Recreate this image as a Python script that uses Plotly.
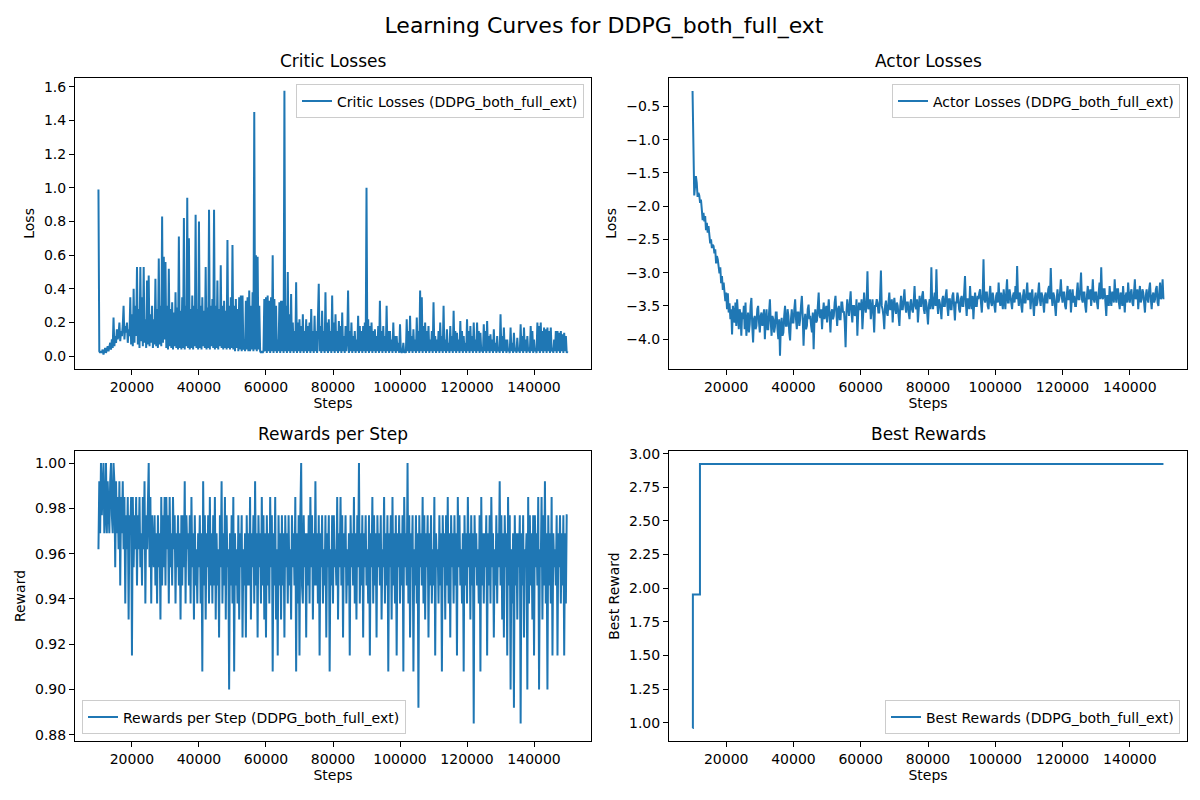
import plotly.graph_objects as go

# training steps, one logged value every 250 steps
steps = list(range(10000, 150001, 250))

critic_losses = [
    0.99, 0.03, 0.02, 0.03, 0.02, 0.04, 0.01, 0.03, 0.05, 0.02, 0.04, 0.06, 0.03, 0.05, 0.08, 0.04, 0.10, 0.05, 0.23, 0.06,
    0.12, 0.08, 0.16, 0.10, 0.13, 0.20, 0.09, 0.15, 0.12, 0.18, 0.30, 0.10, 0.18, 0.14, 0.20, 0.08, 0.16, 0.12, 0.35, 0.07,
    0.25, 0.06, 0.40, 0.08, 0.30, 0.12, 0.53, 0.07, 0.28, 0.05, 0.53, 0.09, 0.35, 0.06, 0.53, 0.08, 0.22, 0.05, 0.45, 0.07,
    0.48, 0.06, 0.25, 0.08, 0.30, 0.05, 0.22, 0.07, 0.46, 0.06, 0.28, 0.05, 0.58, 0.07, 0.30, 0.06, 0.83, 0.08, 0.59, 0.10,
    0.56, 0.05, 0.30, 0.04, 0.52, 0.06, 0.28, 0.05, 0.32, 0.04, 0.26, 0.06, 0.38, 0.05, 0.29, 0.04, 0.71, 0.05, 0.27, 0.04,
    0.35, 0.05, 0.82, 0.04, 0.30, 0.06, 0.94, 0.05, 0.70, 0.04, 0.28, 0.05, 0.36, 0.04, 0.30, 0.06, 0.84, 0.05, 0.28, 0.04,
    0.80, 0.05, 0.30, 0.04, 0.35, 0.06, 0.27, 0.05, 0.53, 0.04, 0.29, 0.05, 0.87, 0.04, 0.30, 0.06, 0.34, 0.05, 0.87, 0.04,
    0.30, 0.05, 0.45, 0.04, 0.28, 0.06, 0.54, 0.05, 0.30, 0.04, 0.33, 0.05, 0.27, 0.04, 0.69, 0.05, 0.30, 0.04, 0.35, 0.05,
    0.66, 0.04, 0.30, 0.03, 0.34, 0.05, 0.28, 0.03, 0.35, 0.04, 0.36, 0.03, 0.36, 0.04, 0.10, 0.03, 0.33, 0.04, 0.35, 0.03,
    0.39, 0.03, 0.30, 0.04, 0.38, 0.03, 1.45, 0.04, 0.60, 0.03, 0.59, 0.04, 0.30, 0.03, 0.02, 0.03, 0.02, 0.03, 0.34, 0.03,
    0.35, 0.02, 0.36, 0.03, 0.33, 0.02, 0.35, 0.03, 0.60, 0.02, 0.34, 0.03, 0.30, 0.02, 0.10, 0.03, 0.32, 0.02, 0.33, 0.03,
    0.33, 0.02, 1.575, 0.03, 0.30, 0.02, 0.50, 0.03, 0.25, 0.02, 0.37, 0.03, 0.20, 0.02, 0.15, 0.03, 0.44, 0.02, 0.20, 0.03,
    0.22, 0.02, 0.18, 0.03, 0.25, 0.02, 0.15, 0.03, 0.22, 0.02, 0.18, 0.03, 0.20, 0.02, 0.28, 0.03, 0.15, 0.02, 0.24, 0.03,
    0.15, 0.02, 0.20, 0.43, 0.03, 0.18, 0.02, 0.27, 0.03, 0.15, 0.02, 0.38, 0.03, 0.20, 0.02, 0.22, 0.03, 0.15, 0.02, 0.36,
    0.03, 0.20, 0.02, 0.25, 0.03, 0.15, 0.02, 0.21, 0.03, 0.18, 0.02, 0.26, 0.03, 0.12, 0.02, 0.18, 0.03, 0.10, 0.39, 0.02,
    0.15, 0.03, 0.20, 0.02, 0.12, 0.03, 0.15, 0.02, 0.10, 0.03, 0.24, 0.02, 0.18, 0.03, 0.15, 0.02, 0.18, 0.03, 0.20, 0.02,
    1.00, 0.03, 0.22, 0.02, 0.18, 0.03, 0.20, 0.02, 0.15, 0.03, 0.16, 0.02, 0.12, 0.03, 0.18, 0.02, 0.33, 0.03, 0.15, 0.02,
    0.18, 0.03, 0.12, 0.02, 0.30, 0.03, 0.15, 0.02, 0.15, 0.03, 0.10, 0.02, 0.20, 0.03, 0.12, 0.02, 0.12, 0.03, 0.08, 0.02,
    0.19, 0.03, 0.02, 0.03, 0.08, 0.02, 0.03, 0.02, 0.22, 0.03, 0.15, 0.02, 0.24, 0.03, 0.12, 0.02, 0.16, 0.03, 0.10, 0.02,
    0.23, 0.03, 0.15, 0.02, 0.39, 0.03, 0.35, 0.02, 0.18, 0.03, 0.20, 0.02, 0.15, 0.03, 0.18, 0.02, 0.10, 0.03, 0.15, 0.02,
    0.32, 0.03, 0.12, 0.02, 0.10, 0.03, 0.15, 0.02, 0.20, 0.03, 0.12, 0.02, 0.30, 0.03, 0.10, 0.02, 0.16, 0.03, 0.08, 0.02,
    0.18, 0.03, 0.12, 0.02, 0.27, 0.03, 0.15, 0.02, 0.14, 0.03, 0.10, 0.02, 0.21, 0.03, 0.15, 0.02, 0.12, 0.03, 0.08, 0.02,
    0.22, 0.03, 0.15, 0.02, 0.18, 0.03, 0.12, 0.02, 0.20, 0.03, 0.10, 0.02, 0.20, 0.03, 0.15, 0.02, 0.14, 0.03, 0.05, 0.02,
    0.19, 0.03, 0.15, 0.02, 0.21, 0.03, 0.12, 0.02, 0.13, 0.03, 0.10, 0.02, 0.16, 0.03, 0.08, 0.02, 0.12, 0.03, 0.05, 0.02,
    0.25, 0.03, 0.12, 0.02, 0.17, 0.03, 0.10, 0.02, 0.10, 0.03, 0.04, 0.02, 0.17, 0.03, 0.08, 0.02, 0.14, 0.03, 0.05, 0.02,
    0.11, 0.03, 0.05, 0.02, 0.19, 0.03, 0.12, 0.02, 0.17, 0.03, 0.10, 0.02, 0.12, 0.03, 0.05, 0.02, 0.18, 0.03, 0.15, 0.02,
    0.10, 0.03, 0.04, 0.02, 0.20, 0.03, 0.18, 0.02, 0.20, 0.03, 0.15, 0.02, 0.17, 0.03, 0.16, 0.02, 0.17, 0.03, 0.15, 0.02,
    0.17, 0.03, 0.05, 0.02, 0.10, 0.03, 0.15, 0.02, 0.15, 0.03, 0.14, 0.02, 0.15, 0.03, 0.13, 0.02, 0.14, 0.03, 0.12, 0.02,
    0.03,
]

actor_losses = [
    -0.27, -1.20, -1.84, -1.70, -1.55, -1.65, -1.86, -1.80, -1.84, -1.95, -1.90, -2.05, -2.21, -2.10, -2.23, -2.15, -2.36, -2.25, -2.40, -2.30,
    -2.45, -2.56, -2.50, -2.63, -2.58, -2.60, -2.71, -2.65, -2.86, -2.75, -2.80, -2.95, -3.01, -2.92, -3.16, -3.05, -3.26, -3.15, -3.35, -3.43,
    -3.30, -3.55, -3.31, -3.60, -3.46, -3.70, -3.55, -3.93, -3.50, -3.65, -3.75, -3.45, -3.80, -3.40, -3.70, -3.85, -3.55, -3.62, -3.95, -3.60,
    -3.70, -3.50, -3.85, -3.45, -3.95, -3.65, -3.60, -3.90, -3.78, -3.50, -3.38, -3.80, -4.05, -3.70, -3.65, -3.85, -3.80, -3.55, -3.50, -3.75,
    -3.90, -3.65, -3.60, -3.80, -3.72, -3.55, -4.00, -3.70, -3.55, -3.85, -3.85, -3.60, -3.40, -3.75, -3.95, -3.65, -3.70, -3.90, -3.82, -3.60,
    -3.60, -3.85, -4.00, -3.70, -4.25, -3.80, -3.68, -3.95, -3.90, -3.65, -3.50, -3.80, -3.80, -3.55, -3.65, -3.90, -4.02, -3.70, -3.55, -3.75,
    -3.75, -3.55, -3.40, -3.70, -3.85, -3.60, -3.60, -3.80, -3.70, -3.50, -3.35, -3.65, -4.10, -3.75, -3.62, -3.85, -3.80, -3.55, -3.48, -3.70,
    -3.65, -3.80, -3.90, -3.60, -4.15, -3.70, -3.55, -3.75, -3.72, -3.50, -3.30, -3.65, -3.68, -3.55, -3.85, -3.60, -3.45, -3.70, -3.60, -3.50,
    -3.75, -3.55, -3.40, -3.65, -3.90, -3.60, -3.55, -3.70, -3.65, -3.45, -3.35, -3.60, -3.80, -3.55, -3.50, -3.70, -3.70, -3.45, -3.45, -3.60,
    -3.58, -3.75, -4.12, -3.60, -3.40, -3.55, -3.65, -3.45, -3.28, -3.60, -3.75, -3.50, -3.50, -3.65, -3.62, -3.40, -3.95, -3.60, -3.45, -3.55,
    -3.55, -3.40, -3.85, -3.60, -3.30, -3.50, -3.60, -3.45, -2.98, -3.55, -3.52, -3.40, -3.70, -3.55, -3.40, -3.60, -3.90, -3.50, -3.50, -3.40,
    -3.45, -3.60, -3.60, -3.35, -2.97, -3.50, -3.55, -3.65, -3.85, -3.50, -3.42, -3.60, -3.65, -3.45, -3.30, -3.55, -3.55, -3.40, -3.75, -3.50,
    -3.38, -3.55, -3.62, -3.45, -3.50, -3.65, -3.80, -3.50, -3.35, -3.55, -3.55, -3.40, -3.25, -3.50, -3.60, -3.45, -3.45, -3.60, -3.70, -3.45,
    -3.40, -3.55, -3.60, -3.45, -3.20, -3.50, -3.55, -3.40, -3.75, -3.55, -3.35, -3.50, -3.50, -3.35, -3.28, -3.55, -3.62, -3.40, -3.45, -3.60,
    -3.78, -3.50, -3.40, -3.55, -2.92, -3.45, -3.55, -3.40, -3.30, -3.50, -2.95, -3.45, -3.62, -3.40, -3.45, -3.55, -3.70, -3.40, -3.35, -3.50,
    -3.50, -3.35, -3.25, -3.50, -3.65, -3.40, -3.40, -3.55, -3.55, -3.35, -3.30, -3.50, -3.72, -3.45, -3.45, -3.30, -3.38, -3.55, -3.60, -3.40,
    -3.35, -3.50, -3.50, -3.30, -3.05, -3.45, -3.65, -3.40, -3.40, -3.55, -3.20, -3.45, -3.55, -3.35, -3.70, -3.45, -3.30, -3.50, -3.50, -3.35,
    -3.40, -3.30, -3.25, -3.45, -3.60, -3.35, -2.80, -3.40, -3.45, -3.30, -3.30, -3.50, -3.55, -3.35, -3.20, -3.45, -3.50, -3.30, -3.38, -3.50,
    -3.60, -3.35, -3.30, -3.45, -3.15, -3.40, -3.50, -3.30, -3.40, -3.55, -3.25, -3.40, -3.55, -3.30, -3.10, -3.45, -3.45, -3.25, -3.35, -3.50,
    -3.55, -3.35, -3.30, -3.45, -3.20, -3.40, -2.90, -3.35, -3.50, -3.30, -3.35, -3.50, -3.60, -3.35, -3.25, -3.45, -3.45, -3.30, -3.15, -3.40,
    -3.40, -3.30, -3.55, -3.35, -3.25, -3.45, -3.65, -3.40, -3.30, -3.50, -3.45, -3.30, -3.15, -3.40, -3.50, -3.30, -3.35, -3.45, -3.60, -3.35,
    -3.30, -3.45, -3.45, -3.25, -3.20, -3.40, -2.93, -3.35, -3.50, -3.30, -3.35, -3.50, -3.65, -3.40, -3.25, -3.45, -3.40, -3.30, -3.10, -3.35,
    -3.45, -3.30, -3.30, -3.50, -3.55, -3.35, -3.20, -3.40, -3.40, -3.25, -3.60, -3.40, -3.25, -3.45, -3.35, -3.50, -3.50, -3.30, -3.15, -3.40,
    -3.40, -3.25, -3.00, -3.40, -3.45, -3.30, -3.30, -3.50, -3.60, -3.35, -3.20, -3.40, -3.35, -3.25, -3.50, -3.35, -3.10, -3.40, -3.45, -3.30,
    -3.30, -3.45, -3.55, -3.30, -3.15, -3.40, -2.92, -3.35, -3.40, -3.25, -3.25, -3.45, -3.65, -3.35, -3.35, -3.50, -3.20, -3.40, -3.50, -3.30,
    -3.30, -3.45, -3.10, -3.35, -3.45, -3.25, -3.25, -3.45, -3.55, -3.30, -3.35, -3.50, -3.20, -3.40, -3.60, -3.35, -3.30, -3.45, -3.15, -3.35,
    -3.45, -3.30, -3.25, -3.45, -3.50, -3.30, -3.10, -3.40, -3.35, -3.25, -3.55, -3.35, -3.20, -3.45, -3.40, -3.25, -3.30, -3.45, -3.60, -3.35,
    -3.25, -3.40, -3.45, -3.25, -3.15, -3.40, -3.55, -3.35, -3.30, -3.45, -3.40, -3.25, -3.20, -3.45, -3.50, -3.30, -3.15, -3.40, -3.35, -3.10,
    -3.40,
]

rewards_per_step = [
    0.962, 0.992, 0.969, 1.000, 0.977, 0.992, 1.000, 0.969, 0.977, 1.000, 0.969, 0.992, 0.977, 0.969, 0.992, 1.000, 0.977, 0.969, 1.000, 0.992,
    0.954, 0.992, 0.969, 0.985, 0.962, 0.992, 0.946, 0.985, 0.969, 0.992, 0.962, 0.985, 0.938, 0.977, 0.962, 0.985, 0.931, 0.977, 0.969, 0.985,
    0.915, 0.985, 0.954, 0.977, 0.962, 0.985, 0.946, 0.977, 0.962, 0.985, 0.954, 0.969, 0.946, 0.985, 0.962, 0.992, 0.938, 0.977, 0.962, 0.992,
    1.000, 0.954, 0.985, 0.938, 0.977, 0.962, 0.954, 0.977, 0.946, 0.969, 0.938, 0.977, 0.954, 0.969, 0.931, 0.985, 0.946, 0.977, 0.954, 0.985,
    0.946, 0.985, 0.962, 0.977, 0.938, 0.985, 0.954, 0.969, 0.946, 0.985, 0.962, 0.977, 0.938, 0.969, 0.954, 0.977, 0.946, 0.969, 0.931, 0.977,
    0.946, 0.977, 0.954, 0.992, 0.938, 0.977, 0.962, 0.969, 0.946, 0.977, 0.938, 0.985, 0.954, 0.969, 0.931, 0.977, 0.946, 0.962, 0.938, 0.969,
    0.954, 0.977, 0.938, 0.969, 0.908, 0.992, 0.946, 0.977, 0.931, 0.969, 0.954, 0.977, 0.938, 0.985, 0.946, 0.969, 0.938, 0.977, 0.946, 0.985,
    0.931, 0.969, 0.946, 0.962, 0.923, 0.977, 0.954, 0.992, 0.938, 0.969, 0.946, 0.985, 0.931, 0.977, 0.954, 0.962, 0.900, 0.969, 0.946, 0.977,
    0.938, 0.985, 0.908, 0.969, 0.946, 0.962, 0.938, 0.977, 0.931, 0.969, 0.954, 0.977, 0.923, 0.962, 0.946, 0.969, 0.923, 0.977, 0.946, 0.969,
    0.946, 0.985, 0.931, 0.969, 0.954, 0.977, 0.938, 0.992, 0.946, 0.969, 0.923, 0.977, 0.954, 0.969, 0.938, 0.985, 0.946, 0.977, 0.931, 0.969,
    0.923, 0.977, 0.946, 0.969, 0.938, 0.985, 0.954, 0.977, 0.908, 0.969, 0.946, 0.985, 0.931, 0.962, 0.915, 0.977, 0.946, 0.969, 0.931, 0.977,
    0.946, 0.969, 0.923, 0.977, 0.954, 0.969, 0.938, 0.977, 0.946, 0.962, 0.931, 0.977, 0.954, 0.969, 0.946, 0.985, 0.908, 0.969, 0.938, 0.977,
    0.915, 0.977, 1.000, 0.946, 0.938, 0.977, 0.954, 0.969, 0.923, 0.969, 0.946, 0.977, 0.938, 0.985, 0.954, 0.977, 0.931, 0.969, 0.946, 0.992,
    0.946, 0.969, 0.938, 0.977, 0.915, 0.969, 0.954, 0.977, 0.938, 0.962, 0.946, 0.977, 0.923, 0.969, 0.954, 0.977, 0.908, 0.962, 0.946, 0.977,
    0.938, 0.977, 0.954, 0.962, 0.946, 0.985, 0.931, 0.969, 0.954, 0.985, 0.946, 0.977, 0.923, 0.969, 0.954, 0.977, 0.938, 0.962, 0.946, 0.969,
    0.915, 0.977, 0.954, 0.969, 0.946, 0.985, 0.938, 0.969, 0.931, 0.977, 0.954, 1.000, 0.938, 0.969, 0.946, 0.977, 0.923, 0.969, 0.954, 0.977,
    0.946, 0.962, 0.938, 0.977, 0.915, 0.969, 0.954, 0.985, 0.938, 0.977, 0.946, 0.969, 0.923, 0.977, 0.954, 0.969, 0.946, 0.977, 0.931, 0.962,
    0.954, 0.985, 0.938, 0.969, 0.946, 0.977, 0.908, 0.969, 0.954, 0.977, 0.931, 0.985, 0.946, 0.969, 0.938, 0.977, 0.915, 0.969, 0.954, 0.977,
    0.938, 0.969, 0.946, 0.977, 0.908, 0.985, 0.954, 0.969, 0.946, 1.000, 0.938, 0.977, 0.923, 0.969, 0.954, 0.977, 0.908, 0.962, 0.946, 0.977,
    0.938, 0.969, 0.892, 0.977, 0.954, 0.969, 0.946, 0.985, 0.938, 0.977, 0.931, 0.969, 0.954, 0.977, 0.923, 0.969, 0.946, 0.977, 0.938, 0.962,
    0.946, 0.985, 0.915, 0.969, 0.954, 0.962, 0.938, 0.977, 0.946, 0.969, 0.908, 0.977, 0.954, 0.969, 0.931, 0.977, 0.946, 0.985, 0.938, 0.969,
    0.923, 0.977, 0.954, 0.969, 0.938, 0.977, 0.946, 0.969, 0.915, 0.985, 0.954, 0.977, 0.946, 0.962, 0.938, 0.969, 0.908, 0.977, 0.946, 0.969,
    0.938, 0.985, 0.954, 0.969, 0.931, 0.977, 0.946, 0.969, 0.885, 0.977, 0.954, 0.969, 0.946, 0.962, 0.938, 0.977, 0.908, 0.985, 0.946, 0.969,
    0.938, 0.969, 0.954, 0.977, 0.915, 0.969, 0.946, 0.977, 0.938, 0.985, 0.954, 0.969, 0.923, 0.962, 0.946, 0.977, 0.938, 0.969, 0.954, 0.992,
    0.946, 0.977, 0.931, 0.969, 0.923, 0.977, 0.954, 0.969, 0.915, 0.985, 0.946, 0.977, 0.900, 0.962, 0.938, 0.969, 0.892, 0.977, 0.946, 0.969,
    0.931, 0.969, 0.954, 0.977, 0.885, 0.969, 0.946, 0.977, 0.923, 0.962, 0.954, 0.969, 0.900, 0.985, 0.938, 0.977, 0.946, 0.969, 0.931, 0.977,
    0.915, 0.977, 0.954, 0.969, 0.946, 0.985, 0.900, 0.962, 0.954, 0.985, 0.931, 0.977, 0.946, 0.992, 0.938, 0.969, 0.900, 0.977, 0.946, 0.969,
    0.938, 0.985, 0.915, 0.969, 0.954, 0.962, 0.946, 0.977, 0.915, 0.969, 0.954, 0.977, 0.938, 0.969, 0.946, 0.977, 0.915, 0.969, 0.938, 0.977,
    0.977,
]

# best reward only changes a few times
best_steps = [10000, 10100, 12200, 150000]
best_rewards = [0.961, 1.954, 2.923, 2.923]

x_ticks = [20000, 40000, 60000, 80000, 100000, 120000, 140000]

BLUE = '#1f77b4'
FONT = 'DejaVu Sans, Liberation Sans, sans-serif'

# page body adds an 8px offset, so the figure is 1192x792 drawn from (8, 8)
W, H = 1192, 792

def px(x):
    return (x - 8) / W

def py(y):
    return 1 - (y - 8) / H

fig = go.Figure()

fig.add_trace(go.Scatter(
    x=steps, y=critic_losses, mode='lines', line=dict(color=BLUE, width=2),
    name='Critic Losses (DDPG_both_full_ext)', xaxis='x', yaxis='y', legend='legend'
))
fig.add_trace(go.Scatter(
    x=steps, y=actor_losses, mode='lines', line=dict(color=BLUE, width=2),
    name='Actor Losses (DDPG_both_full_ext)', xaxis='x2', yaxis='y2', legend='legend2'
))
fig.add_trace(go.Scatter(
    x=steps, y=rewards_per_step, mode='lines', line=dict(color=BLUE, width=2),
    name='Rewards per Step (DDPG_both_full_ext)', xaxis='x3', yaxis='y3', legend='legend3'
))
fig.add_trace(go.Scatter(
    x=best_steps, y=best_rewards, mode='lines', line=dict(color=BLUE, width=2, shape='hv'),
    name='Best Rewards (DDPG_both_full_ext)', xaxis='x4', yaxis='y4', legend='legend4'
))

def x_axis(domain, anchor):
    return dict(
        domain=domain, anchor=anchor, range=[3000, 157000],
        tickvals=x_ticks, tickformat='d',
        title=dict(text='Steps', font=dict(size=14, color='black'), standoff=2),
        showline=True, mirror=True, linecolor='black', linewidth=1,
        ticks='outside', ticklen=5, tickwidth=1, tickcolor='black',
        showgrid=False, zeroline=False, tickfont=dict(size=14, color='black'),
    )

def y_axis(domain, anchor, rng, dtick, fmt, label):
    return dict(
        domain=domain, anchor=anchor, range=rng, dtick=dtick, tick0=0, tickformat=fmt,
        title=dict(text=label, font=dict(size=14, color='black'), standoff=6),
        showline=True, mirror=True, linecolor='black', linewidth=1,
        ticks='outside', ticklen=5, tickwidth=1, tickcolor='black',
        showgrid=False, zeroline=False, tickfont=dict(size=14, color='black'),
    )

left = [px(75), px(591)]
right = [px(669), px(1187)]
top = [py(367), py(73)]
bottom = [py(742), py(449)]

def legend_box(x, y, xanchor, yanchor):
    return dict(
        x=x, y=y, xanchor=xanchor, yanchor=yanchor,
        bgcolor='rgba(255,255,255,0.8)', bordercolor='#cccccc', borderwidth=1,
        font=dict(size=14, color='black'), itemwidth=30,
    )

subtitles = [
    ('Critic Losses', (left[0] + left[1]) / 2, py(68)),
    ('Actor Losses', (right[0] + right[1]) / 2, py(68)),
    ('Rewards per Step', (left[0] + left[1]) / 2, py(444)),
    ('Best Rewards', (right[0] + right[1]) / 2, py(444)),
]

fig.update_layout(
    width=W, height=H,
    margin=dict(l=0, r=0, t=0, b=0),
    paper_bgcolor='white', plot_bgcolor='white',
    font=dict(family=FONT, size=14, color='black'),
    title=dict(text='Learning Curves for DDPG_both_full_ext', x=0.5, xanchor='center',
               y=py(25), yanchor='middle', font=dict(size=22, color='black')),
    xaxis=x_axis(left, 'y'),
    yaxis=y_axis(top, 'x', [-0.077, 1.654], 0.2, '.1f', 'Loss'),
    xaxis2=x_axis(right, 'y2'),
    yaxis2=y_axis(top, 'x2', [-4.453, -0.066], 0.5, '.1f', 'Loss'),
    xaxis3=x_axis(left, 'y3'),
    yaxis3=y_axis(bottom, 'x3', [0.8771, 1.0055], 0.02, '.2f', 'Reward'),
    xaxis4=x_axis(right, 'y4'),
    yaxis4=y_axis(bottom, 'x4', [0.862, 3.022], 0.25, '.2f', 'Best Reward'),
    legend=legend_box(px(584), py(80), 'right', 'top'),
    legend2=legend_box(px(1180), py(80), 'right', 'top'),
    legend3=legend_box(px(82), py(735), 'left', 'bottom'),
    legend4=legend_box(px(1180), py(735), 'right', 'bottom'),
    showlegend=True,
)

for text, xc, ybase in subtitles:
    fig.add_annotation(
        text=text, x=xc, y=ybase, xref='paper', yref='paper',
        xanchor='center', yanchor='bottom', showarrow=False,
        font=dict(size=17, color='black'),
    )

fig.write_html("out.html")
